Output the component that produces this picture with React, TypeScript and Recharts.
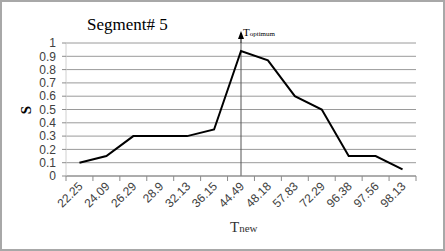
import React from 'react';
import { LineChart, Line, XAxis, YAxis, CartesianGrid, ReferenceLine } from 'recharts';

const tnew = ['22.25', '24.09', '26.29', '28.9', '32.13', '36.15', '44.49', '48.18', '57.83', '72.29', '96.38', '97.56', '98.13'];
const sValues = [0.1, 0.15, 0.3, 0.3, 0.3, 0.35, 0.94, 0.87, 0.6, 0.5, 0.15, 0.15, 0.05];
const yTicks = [0, 0.1, 0.2, 0.3, 0.4, 0.5, 0.6, 0.7, 0.8, 0.9, 1];
const optimumAt = '44.49';

const data = tnew.map((t, i) => ({ t, s: sValues[i] }));

const W = 445;
const H = 251;
const xAxisHeight = 75;
const margin = { top: 43, right: 29, bottom: 0, left: 0 };
const yAxisWidth = 66;
const plotW = W - margin.left - margin.right - yAxisWidth;
const band = plotW / tnew.length;

const XTick = (props: any) => {
    const { x, y, payload, index } = props;
    const last = index === tnew.length - 1;
    return (
        <g>
            <line x1={x - band / 2} x2={x - band / 2} y1={y} y2={y + 5} stroke="#8c8c8c" />
            {last && <line x1={x + band / 2} x2={x + band / 2} y1={y} y2={y + 5} stroke="#8c8c8c" />}
            <text
                x={x + 4}
                y={y + 11}
                textAnchor="end"
                transform={`rotate(-45, ${x + 4}, ${y + 11})`}
                fontFamily="'Liberation Sans', Arial, sans-serif"
                fontSize={12}
                fill="#404040"
            >
                {payload.value}
            </text>
        </g>
    );
};

const OptimumLabel = (props: any) => {
    const { viewBox } = props;
    const x = viewBox.x;
    const top = viewBox.y;
    return (
        <g>
            <line x1={x} x2={x} y1={top} y2={top - 10} stroke="#000" strokeWidth={1} />
            <polygon points={`${x},${top - 12} ${x - 3},${top - 4} ${x + 3},${top - 4}`} fill="#000" />
            <text x={x + 2} y={top - 7} fontFamily="'Liberation Serif', 'Times New Roman', serif" fill="#000">
                <tspan fontSize={11}>T</tspan>
                <tspan fontSize={7}>optimum</tspan>
            </text>
        </g>
    );
};

export default function App() {
    return (
        <div style={{ position: 'absolute', left: 0, top: 0, width: W, height: H, background: '#fff' }}>
            <LineChart width={W} height={H} data={data} margin={margin}>
                <CartesianGrid vertical={false} stroke="#9a9a9a" strokeWidth={1} />
                <XAxis
                    dataKey="t"
                    stroke="#8c8c8c"
                    tickLine={false}
                    tickSize={0}
                    tickMargin={0}
                    tick={<XTick />}
                    interval={0}
                    height={xAxisHeight}
                    padding={{ left: band / 2, right: band / 2 }}
                />
                <YAxis
                    domain={[0, 1]}
                    ticks={yTicks}
                    interval={0}
                    width={yAxisWidth}
                    stroke="#d0d0d0"
                    tickLine={{ stroke: '#8c8c8c' }}
                    tickSize={4}
                    tickMargin={6}
                    tick={{ fill: '#404040', fontSize: 12, fontFamily: "'Liberation Sans', Arial, sans-serif" }}
                />
                <ReferenceLine x={optimumAt} stroke="#555" strokeWidth={1} label={<OptimumLabel />} />
                <Line
                    type="linear"
                    dataKey="s"
                    stroke="#000"
                    strokeWidth={2}
                    dot={false}
                    isAnimationActive={false}
                />
            </LineChart>
            <svg width={W} height={H} style={{ position: 'absolute', left: 0, top: 0, pointerEvents: 'none' }}>
                <text x={87} y={30} fontFamily="'Liberation Serif', 'Times New Roman', serif" fontSize={17} fill="#000">
                    Segment# 5
                </text>
                <text
                    x={31}
                    y={110}
                    textAnchor="middle"
                    transform="rotate(-90, 31, 110)"
                    fontFamily="'Liberation Serif', 'Times New Roman', serif"
                    fontSize={15}
                    fontWeight="bold"
                    fill="#000"
                >
                    S
                </text>
                <text x={230} y={232} fontFamily="'Liberation Serif', 'Times New Roman', serif" fill="#333">
                    <tspan fontSize={15}>T</tspan>
                    <tspan fontSize={11}>new</tspan>
                </text>
                <rect x={1} y={1} width={W - 2} height={H - 2} fill="none" stroke="#a8a8a8" strokeWidth={2} />
            </svg>
        </div>
    );
}
